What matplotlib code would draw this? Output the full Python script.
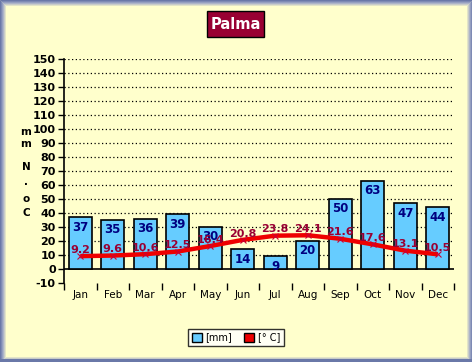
import numpy as np
from matplotlib import pyplot as plt
from matplotlib.patches import Rectangle, Patch

# data
months = ['Jan', 'Feb', 'Mar', 'Apr', 'May', 'Jun', 'Jul', 'Aug', 'Sep', 'Oct', 'Nov', 'Dec']
rain_mm = [37, 35, 36, 39, 30, 14, 9, 20, 50, 63, 47, 44]
temp_c = [9.2, 9.6, 10.6, 12.5, 16.4, 20.8, 23.8, 24.1, 21.6, 17.6, 13.1, 10.5]
yticks = list(range(-10, 151, 10))

bg = '#FFFFCC'
fig = plt.figure(figsize=(4.72, 3.62), dpi=100, facecolor=bg)

# gradient frame around the picture
frame_cols = ['#6A78A8', '#7E8AB4', '#959FC0', '#ADB4C8', '#C8CCC8', '#E2E4C8']
W, H = 472, 362
for i, c in enumerate(frame_cols):
    fig.patches.append(Rectangle((i / W, i / H), 1 - 2 * i / W, 1 - 2 * i / H,
                                 transform=fig.transFigure, fill=False,
                                 edgecolor=c, linewidth=0.72))
# bottom edge a bit thicker
fig.patches.append(Rectangle((0, 0), 1, 3 / H, transform=fig.transFigure,
                             facecolor='#6A78A8', edgecolor='none'))

ax = fig.add_axes([64 / W, 1 - 283 / H, 390 / W, 224 / H])
ax.set_facecolor(bg)
x = np.arange(len(months))

# grid
for v in yticks:
    if v > 0:
        ax.axhline(v, color='black', linewidth=0.9, linestyle=(0, (1, 2)), zorder=0)
ax.axhline(0, color='black', linewidth=1.2, zorder=1)

bars = ax.bar(x, rain_mm, width=0.7, color='#66CCFF', edgecolor='black',
              linewidth=1.2, zorder=2)
for xi, v in zip(x, rain_mm):
    ax.text(xi, v - 2.5, str(v), ha='center', va='top', color='#000080',
            fontsize=8.5, fontweight='bold', zorder=5)

ax.plot(x, temp_c, color='#EE0000', linewidth=3.2, zorder=3, solid_capstyle='butt')
ax.plot(x, temp_c, linestyle='none', marker='x', markersize=5,
        markeredgecolor='#CC0033', markeredgewidth=0.8, zorder=4)
for xi, t in zip(x, temp_c):
    ax.text(xi, t + 4.5, str(t), ha='center', va='center', color='#990033',
            fontsize=8, fontweight='bold', zorder=5)

ax.set_xlim(-0.5, 11.5)
ax.set_ylim(-10, 150)
ax.set_yticks(yticks)
ax.set_yticklabels([str(v) for v in yticks], fontsize=8, fontweight='bold')
ax.set_xticks(x)
ax.set_xticklabels(months, fontsize=7.5)
ax.set_xticks(np.arange(-0.5, 12, 1), minor=True)
ax.tick_params(axis='x', which='major', length=0, pad=5)
ax.tick_params(axis='x', which='minor', length=5, width=1, direction='out')
ax.tick_params(axis='y', length=4, width=1, direction='out', pad=2)
for s in ['top', 'right', 'bottom']:
    ax.spines[s].set_visible(False)
ax.spines['left'].set_linewidth(1.2)

# stacked y label
ylab_chars = ['m', 'm', 'N', '.', 'o', 'C']
ylab_pos = [132, 144, 167, 182, 199, 213]
for ch, yp in zip(ylab_chars, ylab_pos):
    fig.text(26 / W, 1 - yp / H, ch, ha='center', va='center',
             fontsize=7.5, fontweight='bold')

# title box
fig.patches.append(Rectangle((207 / W, 1 - 37 / H), 57 / W, 26 / H,
                             transform=fig.transFigure, facecolor='#990033',
                             edgecolor='black', linewidth=1))
fig.text(235.5 / W, 1 - 24.5 / H, 'Palma', ha='center', va='center',
         color='white', fontsize=10.5, fontweight='bold')

# legend
handles = [Patch(facecolor='#66CCFF', edgecolor='black', label='[mm]'),
           Patch(facecolor='#EE0000', edgecolor='black', label='[° C]')]
leg = fig.legend(handles=handles, loc='center', ncol=2,
                 bbox_to_anchor=(236 / W, 1 - 337.5 / H), fontsize=7,
                 frameon=True, fancybox=False, handlelength=1.0,
                 handleheight=1.0, handletextpad=0.4, columnspacing=1.2,
                 borderpad=0.4)
leg.get_frame().set_edgecolor('black')
leg.get_frame().set_facecolor('white')
leg.get_frame().set_linewidth(1)

fig.savefig('out.png', dpi=100, facecolor=bg)
